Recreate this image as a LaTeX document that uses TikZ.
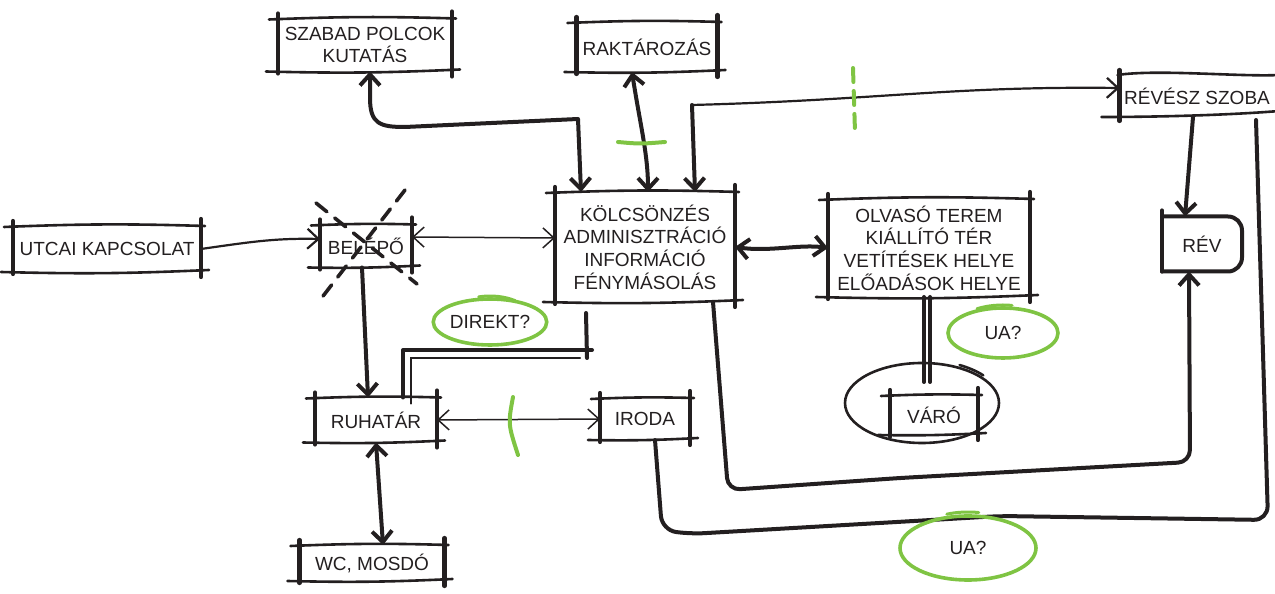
\documentclass[tikz,border=0pt]{standalone}
\usepackage{fontspec}
\setmainfont{Liberation Sans}
\usetikzlibrary{arrows.meta,shapes.geometric}

\newlength{\du}
\setlength{\du}{0.5pt}

\definecolor{dialinecolor}{rgb}{0.137255, 0.121569, 0.125490}
\definecolor{diagreencolor}{rgb}{0.498039, 0.768627, 0.262745}

\tikzset{
  room/.style={inner sep=0pt, outer sep=0pt, align=center, text=dialinecolor,
    font=\fontsize{9.5}{11.3}\selectfont},
  boxside/.style={draw=dialinecolor, line width=4.2\du, line cap=round},
  boxedge/.style={draw=dialinecolor, line width=2.6\du, line cap=round},
  heavy/.style={draw=dialinecolor, line width=4\du, line cap=round, line join=round},
  light/.style={draw=dialinecolor, line width=2.2\du, line cap=round},
  hair/.style={draw=dialinecolor, line width=1.5\du, line cap=round},
  endbarb/.style={-{Straight Barb[length=5.5pt,width=10pt]}},
  bothbarb/.style={{Straight Barb[length=5.5pt,width=10pt]}-{Straight Barb[length=5.5pt,width=10pt]}},
  greenmark/.style={draw=diagreencolor, line width=4\du, line cap=round},
  greenloop/.style={ellipse, draw=diagreencolor, line width=3.6\du, inner sep=0pt,
    text=dialinecolor, font=\fontsize{9.5}{11.3}\selectfont},
  crossout/.style={draw=dialinecolor, line width=3.6\du, line cap=round,
    dash pattern=on 14\du off 10\du},
}

% hand drawn frame round a named node
\newcommand{\sketchbox}[1]{%
  \draw[boxedge] ([xshift=-9\du,yshift=-1\du]#1.north west) to[bend left=2] ([xshift=4\du]#1.north east);
  \draw[boxedge] ([xshift=-12\du]#1.south west) to[bend right=2] ([xshift=8\du,yshift=2\du]#1.south east);
  \draw[boxside] ([yshift=5\du]#1.north west) -- ([yshift=-2\du]#1.south west);
  \draw[boxside] ([yshift=7\du]#1.north east) -- ([yshift=-5\du]#1.south east);
}

\begin{document}
\begin{tikzpicture}
\useasboundingbox (0\du,0\du) rectangle (1275\du,594\du);

% rooms
\node[room, minimum width=174\du, minimum height=53\du] (polc) at (365\du,549\du) {SZABAD POLCOK\\KUTATÁS};
\node[room, minimum width=141\du, minimum height=50\du] (rakt) at (647\du,547\du) {RAKTÁROZÁS};
\node[room, minimum width=155\du, minimum height=42\du] (revesz) at (1197\du,498\du) {RÉVÉSZ SZOBA};
\node[room, minimum width=188\du, minimum height=46\du] (utcai) at (107\du,345\du) {UTCAI KAPCSOLAT};
\node[room, minimum width=92\du, minimum height=43\du] (belepo) at (366\du,348\du) {BELÉPŐ};
\node[room, minimum width=180\du, minimum height=110\du] (kolcs) at (645\du,347\du) {KÖLCSÖNZÉS\\ADMINISZTRÁCIÓ\\INFORMÁCIÓ\\FÉNYMÁSOLÁS};
\node[room, minimum width=202\du, minimum height=98\du] (olvaso) at (929\du,346\du) {OLVASÓ TEREM\\KIÁLLÍTÓ TÉR\\VETÍTÉSEK HELYE\\ELŐADÁSOK HELYE};
\node[room, minimum width=80\du, minimum height=55\du] (rev) at (1202\du,350\du) {RÉV};
\node[room, minimum width=122\du, minimum height=45\du] (ruhatar) at (376\du,174\du) {RUHATÁR};
\node[room, minimum width=90\du, minimum height=42\du] (iroda) at (645\du,175\du) {IRODA};
\node[room, minimum width=145\du, minimum height=36\du] (wc) at (372\du,31\du) {WC, MOSDÓ};
\node[room, minimum width=88\du, minimum height=40\du] (varo) at (934\du,179\du) {VÁRÓ};

\sketchbox{polc}
\sketchbox{rakt}
\sketchbox{utcai}
\sketchbox{belepo}
\sketchbox{kolcs}
\sketchbox{olvaso}
\sketchbox{ruhatar}
\sketchbox{iroda}
\sketchbox{wc}
\sketchbox{varo}

% open frame, right side runs off the page
\draw[boxside] ([yshift=5\du]revesz.north west) -- ([yshift=-4\du]revesz.south west);
\draw[boxedge] ([xshift=-2\du]revesz.north west) .. controls +(40\du,6\du) and +(-40\du,-2\du) .. ([xshift=5\du]revesz.north east);
\draw[boxedge] ([xshift=-18\du]revesz.south west) .. controls +(60\du,0\du) and +(-50\du,-4\du) .. ([xshift=5\du,yshift=6\du]revesz.south east);

\draw[boxside] ([yshift=6\du]rev.north west) -- (rev.south west);
\draw[heavy, rounded corners=14\du] (rev.north west) -- (rev.north east) -- (rev.south east) -- (rev.south west);

% waiting area
\draw[boxedge] (922\du,191\du) ellipse [x radius=77\du, y radius=40\du];
\draw[boxedge] (922\du,191\du) ++(62:40pt and 21.5pt) arc [start angle=62, end angle=40, x radius=40pt, y radius=21.5pt];

% connectors
\draw[light, endbarb] (utcai.east) .. controls (250\du,352\du) and (275\du,356\du) .. ([yshift=7\du]belepo.west);
\draw[hair, bothbarb] ([yshift=9\du]belepo.east) -- ([yshift=9\du]kolcs.west);
\draw[heavy, endbarb] ([xshift=-4\du]belepo.south) -- ([xshift=-8\du]ruhatar.north);
\draw[heavy, bothbarb] ([xshift=5\du]polc.south) -- (370\du,496\du) .. controls (370\du,470\du) and (380\du,467\du) .. (405\du,467\du) -- (578\du,475\du) -- ([xshift=-64\du]kolcs.north);
\draw[heavy, bothbarb] ([xshift=-15\du]rakt.south) .. controls (640\du,470\du) and (648\du,440\du) .. ([xshift=3\du]kolcs.north);
\coordinate (revkink) at (692\du,489\du);
\draw[light, endbarb] (revkink) .. controls (880\du,494\du) and (950\du,508\du) .. ([yshift=8\du]revesz.west);
\draw[heavy, endbarb] (revkink) -- ([xshift=50\du]kolcs.north);
\draw[heavy, bothbarb] (kolcs.east) .. controls (770\du,342\du) and (800\du,350\du) .. (olvaso.west);
\draw[heavy, endbarb] ([xshift=-4\du]revesz.south) -- ([xshift=-17\du]rev.north);
\draw[heavy, endbarb, rounded corners=12\du] ([xshift=68\du]kolcs.south) -- (728\du,104\du) -- (900\du,116\du) -- (1190\du,132\du) -- ([xshift=-13\du]rev.south);
\draw[heavy, rounded corners=14\du] ([xshift=10\du]iroda.south) -- (662\du,64\du) -- (690\du,60\du) -- (1000\du,78\du) -- (1268\du,74\du) -- ([xshift=59\du,yshift=-3\du]revesz.south);
\draw[hair, bothbarb] (ruhatar.east) -- (iroda.west);
\draw[heavy, bothbarb] (ruhatar.south) -- ([xshift=11\du]wc.north);
\draw[heavy] ([xshift=-5\du]olvaso.south) -- ([xshift=-10\du,yshift=13\du]varo.north);
\draw[heavy] ([xshift=1\du]olvaso.south) -- ([xshift=-4\du,yshift=13\du]varo.north);

% direct way
\draw[heavy] ([xshift=27\du]ruhatar.north) |- (592\du,244\du);
\draw[light] ([xshift=35\du,yshift=-6\du]ruhatar.north) |- (580\du,236\du);
\draw[heavy] ([xshift=-59\du,yshift=-11\du]kolcs.south) -- ([xshift=-58\du,yshift=-56\du]kolcs.south);

% crossed out entry
\draw[crossout] (405\du,404\du) -- (320\du,294\du);
\draw[crossout] (316\du,391\du) -- (417\du,310\du);

% green notes
\node[greenloop, minimum width=92\du, minimum height=46\du] (direkt) at (490\du,272\du) {DIREKT?};
\node[greenloop, minimum width=110\du, minimum height=50\du] (uaolv) at (1003\du,261\du) {UA?};
\node[greenloop, minimum width=136\du, minimum height=64\du] (uairoda) at (968\du,46\du) {UA?};
\draw[greenmark, line width=3\du] (direkt.center) ++(105:22pt and 13pt) arc [start angle=105, end angle=55, x radius=22pt, y radius=13pt];
\draw[greenmark, line width=3\du] (uaolv.center) ++(120:26pt and 14pt) arc [start angle=120, end angle=80, x radius=26pt, y radius=14pt];
\draw[greenmark, line width=3\du] (uairoda.center) ++(110:31pt and 18pt) arc [start angle=110, end angle=80, x radius=31pt, y radius=18pt];
\draw[greenmark, dash pattern=on 14\du off 9\du] (853\du,526\du) -- (855\du,462\du);
\draw[greenmark] (618\du,452\du) .. controls (640\du,450\du) .. (665\du,452\du);
\draw[greenmark] (513\du,197\du) .. controls (508\du,170\du) .. (518\du,139\du);
\end{tikzpicture}
\end{document}
